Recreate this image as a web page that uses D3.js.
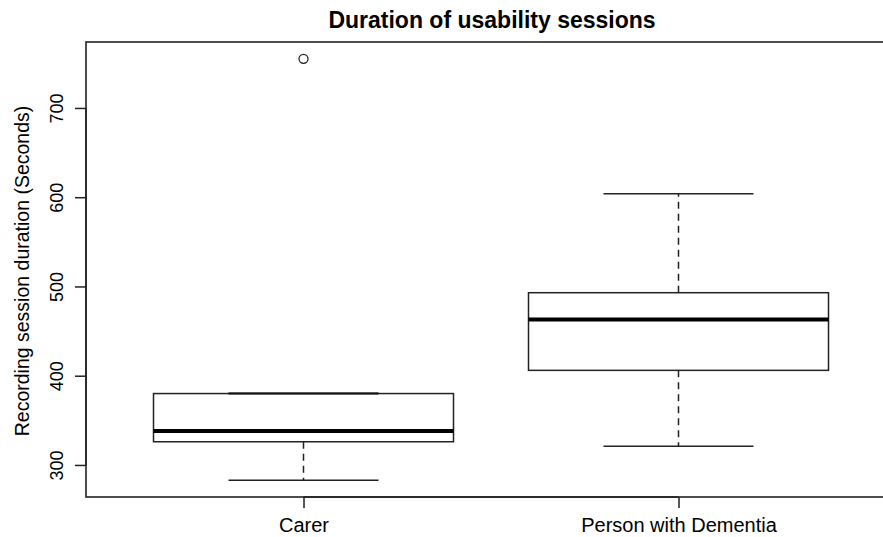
<!DOCTYPE html>
<html><head><meta charset="utf-8">
<script src="https://cdn.jsdelivr.net/npm/d3@7"></script>
<style>body{margin:0;background:#fff}svg{display:block}text{font-family:"Liberation Sans",Arial,sans-serif;fill:#000}</style>
</head><body><svg id="c" width="883" height="537"></svg>
<script>
const categories = ["Carer", "Person with Dementia"];
const whiskerLow = [283, 321];
const q1 = [326, 406];
const median = [338, 463];
const q3 = [380, 493];
const whiskerHigh = [380, 604];
const outliers = [[755], []];
const yTicks = [300, 400, 500, 600, 700];

(function(){
const svg = d3.select("#c");
const mL = 86, mR = 896, mT = 42, mB = 497;
const x = d3.scaleLinear().domain([0.42, 2.58]).range([mL, mR]);
const y = d3.scaleLinear().domain([264.1, 773.9]).range([mB, mT]);

const g = svg.append("g");
g.append("rect").attr("x", mL).attr("y", mT).attr("width", mR-mL).attr("height", mB-mT)
  .attr("fill", "none").attr("stroke", "#222").attr("stroke-width", 1.6);

categories.forEach((c, i) => {
  const cx = x(i+1), bw = x(1.4)-x(1), cw = x(1.2)-x(1);
  g.append("line").attr("x1", cx).attr("x2", cx).attr("y1", y(q3[i])).attr("y2", y(whiskerHigh[i]))
    .attr("stroke", "#222").attr("stroke-width", 1.5).attr("stroke-dasharray", "7,5");
  g.append("line").attr("x1", cx).attr("x2", cx).attr("y1", y(q1[i])).attr("y2", y(whiskerLow[i]))
    .attr("stroke", "#222").attr("stroke-width", 1.5).attr("stroke-dasharray", "7,5");
  [whiskerHigh[i], whiskerLow[i]].forEach(v => {
    g.append("line").attr("x1", cx-cw).attr("x2", cx+cw).attr("y1", y(v)).attr("y2", y(v))
      .attr("stroke", "#222").attr("stroke-width", 1.5);
  });
  g.append("rect").attr("x", cx-bw).attr("width", 2*bw).attr("y", y(q3[i])).attr("height", y(q1[i])-y(q3[i]))
    .attr("fill", "#fff").attr("stroke", "#222").attr("stroke-width", 1.5);
  if (whiskerHigh[i] === q3[i]) {
    g.append("line").attr("x1", cx-cw).attr("x2", cx+cw).attr("y1", y(q3[i])).attr("y2", y(q3[i]))
      .attr("stroke", "#111").attr("stroke-width", 2);
  }
  g.append("line").attr("x1", cx-bw).attr("x2", cx+bw).attr("y1", y(median[i])).attr("y2", y(median[i]))
    .attr("stroke", "#000").attr("stroke-width", 4);
  outliers[i].forEach(v => {
    g.append("circle").attr("cx", cx).attr("cy", y(v)).attr("r", 4.5)
      .attr("fill", "none").attr("stroke", "#222").attr("stroke-width", 1.3);
  });
});

const ya = svg.append("g").attr("transform", `translate(${mL},0)`)
  .call(d3.axisLeft(y).tickValues(yTicks).tickSize(11).tickSizeOuter(0).tickPadding(0).tickFormat(d3.format("d")));
ya.select(".domain").attr("stroke", "#222").attr("stroke-width", 1.5).attr("d", `M0,${y(300)}V${y(700)}`);
ya.selectAll(".tick line").attr("stroke", "#222").attr("stroke-width", 1.5);
ya.selectAll(".tick text").attr("font-size", 18).attr("text-anchor", "middle")
  .attr("transform", "translate(-23,0) rotate(-90)").attr("x", 0).attr("y", 0).attr("dy", 0);

const xa = svg.append("g").attr("transform", `translate(0,${mB})`)
  .call(d3.axisBottom(x).tickValues([1,2]).tickSize(11).tickSizeOuter(0).tickPadding(0).tickFormat((d)=>categories[d-1]));
xa.select(".domain").attr("stroke", "#222").attr("stroke-width", 1.5).attr("d", `M${x(1)},0H${x(2)}`);
xa.selectAll(".tick line").attr("stroke", "#222").attr("stroke-width", 1.5);
xa.selectAll(".tick text").attr("font-size", 20).attr("y", 35).attr("dy", 0);

svg.append("text").attr("x", 492).attr("y", 28).attr("text-anchor", "middle")
  .attr("font-size", 23).attr("font-weight", "bold").text("Duration of usability sessions");
svg.append("text").attr("transform", `translate(29,271) rotate(-90)`).attr("text-anchor", "middle")
  .attr("font-size", 19.5).text("Recording session duration (Seconds)");
})();
</script></body></html>
